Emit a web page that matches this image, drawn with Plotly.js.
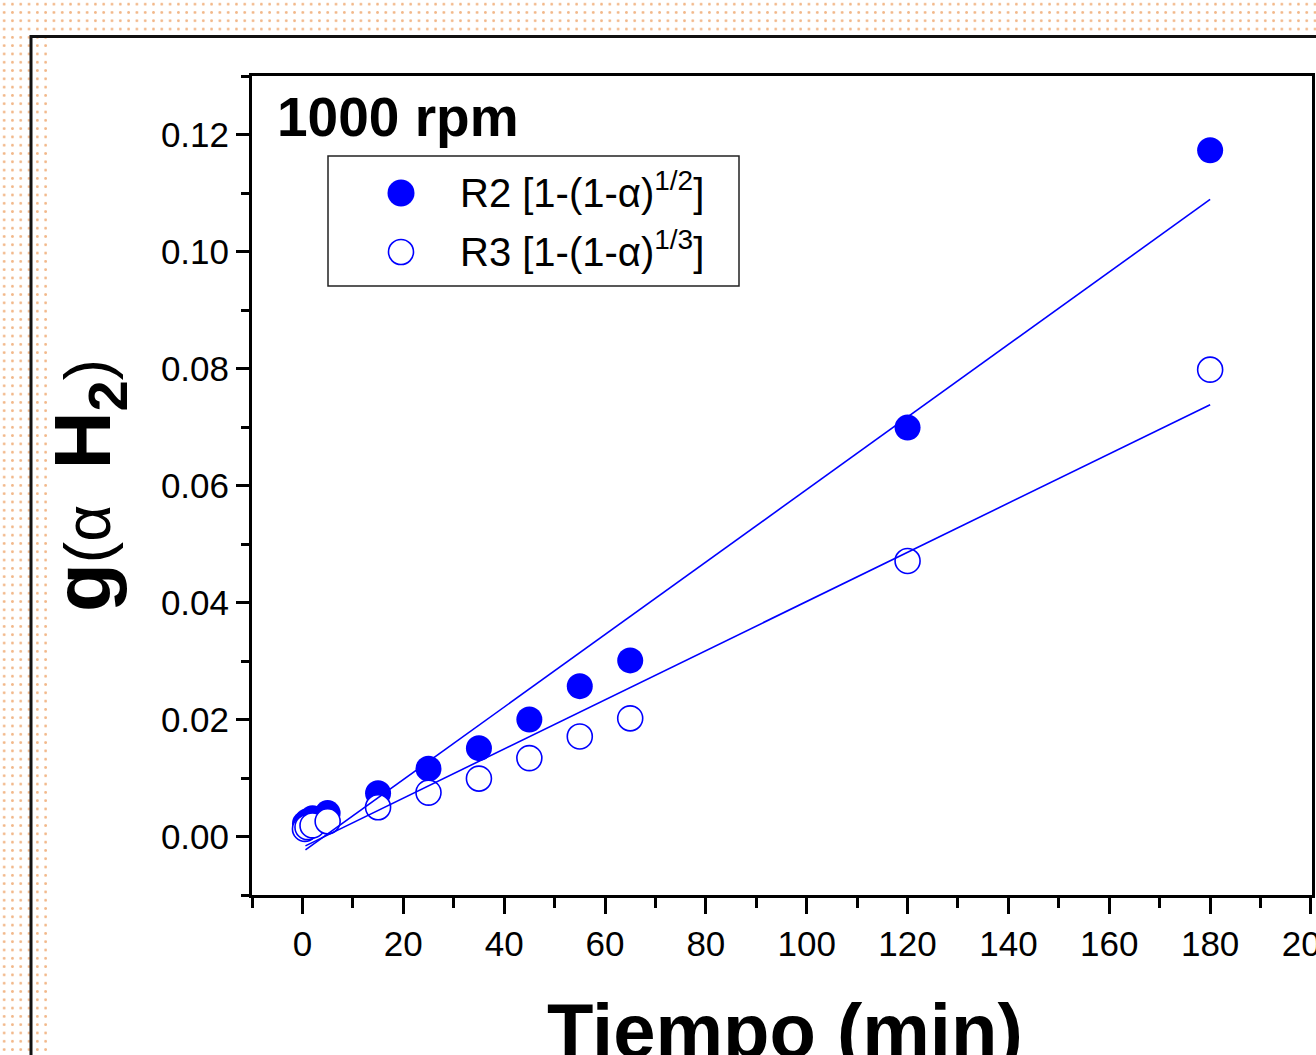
<!DOCTYPE html>
<html>
<head>
<meta charset="utf-8">
<script src="https://cdn.plot.ly/plotly-3.0.1.min.js"></script>
<style>
  html, body { margin: 0; padding: 0; width: 1316px; height: 1055px; overflow: hidden;
    background-color: #ffffff;
    background-image: radial-gradient(circle, #f2b88a 1.1px, rgba(255,255,255,0) 1.6px);
    background-size: 8.3px 8.3px; background-position: 0px 0px; }
  #chart { width: 1316px; height: 1055px; }
</style>
</head>
<body>
<div id="chart"></div>
<script>
// Data
const timeMin = [0.5, 1, 2, 5, 15, 25, 35, 45, 55, 65, 120, 180];
const r2Values = [0.0022, 0.0026, 0.0031, 0.0040, 0.0074, 0.0116, 0.0151, 0.0200, 0.0257, 0.0301, 0.0699, 0.1173];
const r3Values = [0.0013, 0.0016, 0.0019, 0.0026, 0.0050, 0.0075, 0.0099, 0.0134, 0.0171, 0.0202, 0.0471, 0.0798];
// Linear-fit line endpoints
const fitTime = [0.6, 180];
const r2Fit = [-0.0023, 0.1089];
const r3Fit = [-0.0016, 0.0738];
const r2Name = 'R2 [1-(1-α)<sup>1/2</sup>]';
const r3Name = 'R3 [1-(1-α)<sup>1/3</sup>]';
const panelLabel = '1000 rpm';
const xTitle = 'Tiempo (min)';

const blue = '#0000ff';
const fontFam = '"Liberation Sans", Arial, sans-serif';

// plot area in pixels (for placing the legend box, frame)
const PL = 252, PR = 1312, PT = 76, PB = 895;
const px = v => (v - PL) / (PR - PL);
const py = v => (PB - v) / (PB - PT);

const traces = [
  { x: timeMin, y: r2Values, type: 'scatter', mode: 'markers', name: r2Name, showlegend: false,
    marker: { symbol: 'circle', size: 26, color: blue, line: { width: 0 } } },
  { x: timeMin, y: r3Values, type: 'scatter', mode: 'markers', name: r3Name, showlegend: false,
    marker: { symbol: 'circle', size: 25, color: '#ffffff', line: { width: 1.6, color: blue } } },
  { x: fitTime, y: r2Fit, type: 'scatter', mode: 'lines', showlegend: false,
    line: { color: blue, width: 1.6 } },
  { x: fitTime, y: r3Fit, type: 'scatter', mode: 'lines', showlegend: false,
    line: { color: blue, width: 1.6 } }
];

const axisCommon = {
  showgrid: false, zeroline: false, showline: true, linewidth: 3, linecolor: '#000',
  mirror: true, ticks: 'outside', tickwidth: 3, tickcolor: '#000',
  ticklabeloverflow: 'allow',
  tickfont: { family: fontFam, size: 35, color: '#000' }
};

const legendFont = { family: fontFam, size: 40, color: '#000' };

const layout = {
  width: 1316, height: 1055,
  paper_bgcolor: 'rgba(0,0,0,0)', plot_bgcolor: '#ffffff',
  margin: { l: PL, r: 1316 - PR, t: PT, b: 1055 - PB },
  showlegend: false,
  xaxis: Object.assign({}, axisCommon, {
    range: [-10, 200.2], tick0: 0, dtick: 20, ticklen: 16,
    minor: { dtick: 10, ticklen: 10, tickwidth: 3, tickcolor: '#000', ticks: 'outside', showgrid: false }
  }),
  yaxis: Object.assign({}, axisCommon, {
    range: [-0.01, 0.13], tick0: 0, dtick: 0.02, tickformat: '.2f', ticklen: 13,
    minor: { dtick: 0.01, ticklen: 8, tickwidth: 3, tickcolor: '#000', ticks: 'outside', showgrid: false },
    title: { text: '<b>g</b><span style="font-size:64px">(α  </span><b>H<sub>2</sub></b><span style="font-size:64px">)</span>',
             font: { family: fontFam, size: 80, color: '#000' }, standoff: 24 }
  }),
  annotations: [
    { text: '<b>' + panelLabel + '</b>', xref: 'paper', yref: 'paper',
      x: 0.022, y: 0.95, xanchor: 'left', yanchor: 'middle', showarrow: false,
      font: { family: fontFam, size: 55, color: '#000' } },
    { text: r2Name, xref: 'paper', yref: 'paper', x: px(458), y: py(190),
      xanchor: 'left', yanchor: 'middle', showarrow: false, font: legendFont },
    { text: r3Name, xref: 'paper', yref: 'paper', x: px(458), y: py(249),
      xanchor: 'left', yanchor: 'middle', showarrow: false, font: legendFont },
    // x-axis title
    { text: '<b>' + xTitle + '</b>', xref: 'paper', yref: 'paper', x: px(785), y: py(986),
      xanchor: 'center', yanchor: 'top', showarrow: false,
      font: { family: fontFam, size: 76, color: '#000' } }
  ],
  shapes: [
    // white card inside the outer frame
    { type: 'rect', xref: 'paper', yref: 'paper', layer: 'below',
      x0: px(50), x1: 1.2, y0: -0.5, y1: py(38),
      fillcolor: '#ffffff', line: { width: 0 } },
    // outer frame border
    { type: 'rect', xref: 'paper', yref: 'paper', layer: 'below',
      x0: px(31), x1: 1.2, y0: -0.5, y1: py(36.5),
      fillcolor: 'rgba(0,0,0,0)', line: { width: 3, color: '#111' } },
    // legend box
    { type: 'rect', xref: 'paper', yref: 'paper', layer: 'above',
      x0: px(328), x1: px(739), y0: py(286), y1: py(156),
      fillcolor: 'rgba(255,255,255,0)', line: { width: 1.5, color: '#222' } },
    // legend symbols
    { type: 'circle', xref: 'paper', yref: 'paper', xsizemode: 'pixel', ysizemode: 'pixel',
      xanchor: px(401), yanchor: py(193), x0: -13.5, x1: 13.5, y0: -13.5, y1: 13.5,
      fillcolor: blue, line: { width: 0 } },
    { type: 'circle', xref: 'paper', yref: 'paper', xsizemode: 'pixel', ysizemode: 'pixel',
      xanchor: px(401), yanchor: py(252), x0: -12.5, x1: 12.5, y0: -12.5, y1: 12.5,
      fillcolor: '#ffffff', line: { width: 1.6, color: blue } }
  ]
};

Plotly.newPlot('chart', traces, layout, { displayModeBar: false, staticPlot: true });
</script>
</body>
</html>
